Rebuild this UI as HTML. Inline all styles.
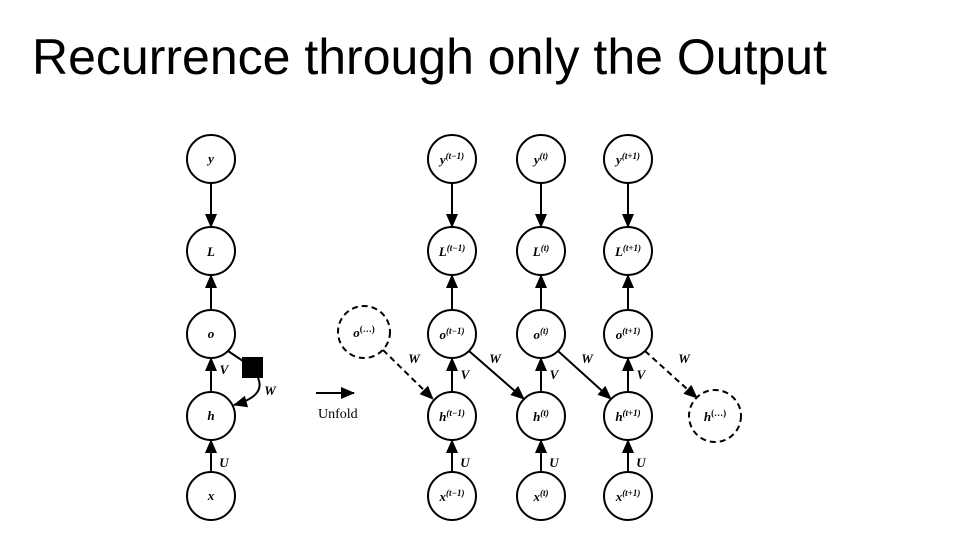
<!DOCTYPE html>
<html><head><style>
html,body{margin:0;padding:0;background:#fff;}
.t{position:absolute;left:32px;top:28px;font:50px "Liberation Sans",sans-serif;color:#000;white-space:nowrap;}
svg{position:absolute;left:0;top:0;}
text{font-family:"Liberation Serif",serif;font-weight:bold;font-style:italic;}
text.n{font-style:normal;font-weight:normal;}
</style></head><body>
<div class="t">Recurrence through only the Output</div>
<svg width="966" height="533" viewBox="0 0 966 533">
<defs>
<marker id="a" markerWidth="14" markerHeight="14" refX="13" refY="7" orient="auto" markerUnits="userSpaceOnUse" viewBox="0 0 14 14">
<path d="M0,1 L14,7 L0,13 z" fill="#000"/></marker>
</defs>
<g fill="none" stroke="#000" stroke-width="2">
<circle cx="211" cy="159" r="24"/><circle cx="211" cy="251" r="24"/><circle cx="211" cy="334" r="24"/><circle cx="211" cy="416" r="24"/><circle cx="211" cy="496" r="24"/>
<line x1="211" y1="183" x2="211" y2="227" marker-end="url(#a)"/>
<line x1="211" y1="310" x2="211" y2="275" marker-end="url(#a)"/>
<line x1="211" y1="392" x2="211" y2="358" marker-end="url(#a)"/>
<line x1="211" y1="472" x2="211" y2="440" marker-end="url(#a)"/>
<line x1="228" y1="351" x2="243" y2="361"/>
<path d="M258,378 Q266,396 234,405" marker-end="url(#a)"/>
<line x1="316" y1="393" x2="354" y2="393" marker-end="url(#a)"/>
<circle cx="364" cy="332" r="26" stroke-dasharray="6,4"/>
<circle cx="715" cy="416" r="26" stroke-dasharray="6,4"/>
<line x1="383" y1="350" x2="433" y2="399" stroke-dasharray="6,4" marker-end="url(#a)"/>
<line x1="645" y1="351" x2="697" y2="398" stroke-dasharray="6,4" marker-end="url(#a)"/>
<g id="c1">
<circle cx="452" cy="159" r="24"/><circle cx="452" cy="251" r="24"/><circle cx="452" cy="334" r="24"/><circle cx="452" cy="416" r="24"/><circle cx="452" cy="496" r="24"/>
<line x1="452" y1="183" x2="452" y2="227" marker-end="url(#a)"/>
<line x1="452" y1="310" x2="452" y2="275" marker-end="url(#a)"/>
<line x1="452" y1="392" x2="452" y2="358" marker-end="url(#a)"/>
<line x1="452" y1="472" x2="452" y2="440" marker-end="url(#a)"/>
</g>
<use href="#c1" x="89"/><use href="#c1" x="176"/>
<line x1="469" y1="351" x2="524" y2="399" marker-end="url(#a)"/>
<line x1="558" y1="351" x2="611" y2="399" marker-end="url(#a)"/>
</g>
<rect x="242" y="357" width="21" height="21" fill="#000"/>
<g font-size="13" text-anchor="middle" fill="#000">
<text x="211" y="163">y</text><text x="211" y="256">L</text><text x="211" y="338">o</text><text x="211" y="420">h</text><text x="211" y="500">x</text>
<text x="224" y="374">V</text><text x="270" y="395">W</text><text x="224" y="467">U</text>
<text x="364" y="337">o<tspan font-size="9" dy="-5" font-style="normal">(…)</tspan></text>
<text x="715" y="421">h<tspan font-size="9" dy="-5" font-style="normal">(…)</tspan></text>
<text x="452" y="164">y<tspan font-size="9" dy="-5">(t−1)</tspan></text>
<text x="541" y="164">y<tspan font-size="9" dy="-5">(t)</tspan></text>
<text x="628" y="164">y<tspan font-size="9" dy="-5">(t+1)</tspan></text>
<text x="452" y="256">L<tspan font-size="9" dy="-5">(t−1)</tspan></text>
<text x="541" y="256">L<tspan font-size="9" dy="-5">(t)</tspan></text>
<text x="628" y="256">L<tspan font-size="9" dy="-5">(t+1)</tspan></text>
<text x="452" y="339">o<tspan font-size="9" dy="-5">(t−1)</tspan></text>
<text x="541" y="339">o<tspan font-size="9" dy="-5">(t)</tspan></text>
<text x="628" y="339">o<tspan font-size="9" dy="-5">(t+1)</tspan></text>
<text x="452" y="421">h<tspan font-size="9" dy="-5">(t−1)</tspan></text>
<text x="541" y="421">h<tspan font-size="9" dy="-5">(t)</tspan></text>
<text x="628" y="421">h<tspan font-size="9" dy="-5">(t+1)</tspan></text>
<text x="452" y="501">x<tspan font-size="9" dy="-5">(t−1)</tspan></text>
<text x="541" y="501">x<tspan font-size="9" dy="-5">(t)</tspan></text>
<text x="628" y="501">x<tspan font-size="9" dy="-5">(t+1)</tspan></text>
<text x="465" y="379">V</text><text x="554" y="379">V</text><text x="641" y="379">V</text>
<text x="465" y="467">U</text><text x="554" y="467">U</text><text x="641" y="467">U</text>
<text x="414" y="363">W</text><text x="495" y="363">W</text><text x="587" y="363">W</text><text x="684" y="363">W</text>
</g>
<text class="n" x="318" y="418" font-size="14" fill="#000">Unfold</text>
</svg>
</body></html>
